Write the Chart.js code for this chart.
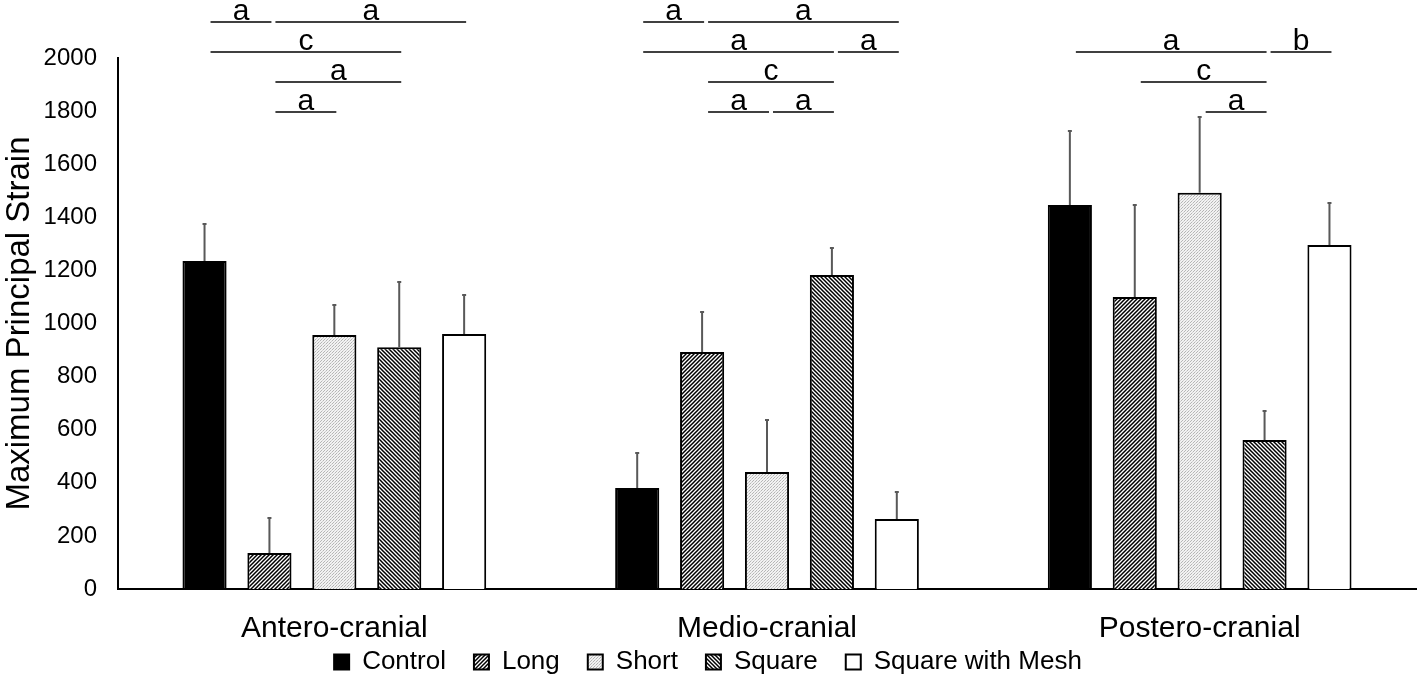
<!DOCTYPE html>
<html>
<head>
<meta charset="utf-8">
<script src="https://cdn.jsdelivr.net/npm/chart.js@4/dist/chart.umd.min.js"></script>
<style>
body { margin: 0; background: #fff; }
#wrap { width: 1418px; height: 679px; }
</style>
</head>
<body>
<div id="wrap"><canvas id="strain_plot_canvas"></canvas></div>
<script>
const regions = ['Antero-cranial', 'Medio-cranial', 'Postero-cranial'];
const groups = ['Control', 'Long', 'Short', 'Square', 'Square with Mesh'];
const yTicks = [0, 200, 400, 600, 800, 1000, 1200, 1400, 1600, 1800, 2000];

// mean strain per region
const controlMean = [1235, 380, 1446];
const longMean = [136, 893, 1100];
const shortMean = [957, 441, 1492];
const squareMean = [911, 1183, 561];
const meshMean = [960, 264, 1296];

// upper error (SD)
const controlSd = [140, 132, 279];
const longSd = [131, 150, 346];
const shortSd = [113, 196, 286];
const squareSd = [245, 101, 109];
const meshSd = [147, 101, 158];

// [region, fromGroup, toGroup, row, letter]
const sigLines = [
    [0, 0, 1, 0, 'a'], [0, 1, 4, 0, 'a'], [0, 0, 3, 1, 'c'], [0, 1, 3, 2, 'a'], [0, 1, 2, 3, 'a'],
    [1, 0, 1, 0, 'a'], [1, 1, 4, 0, 'a'], [1, 0, 3, 1, 'a'], [1, 3, 4, 1, 'a'],
    [1, 1, 3, 2, 'c'], [1, 1, 2, 3, 'a'], [1, 2, 3, 3, 'a'],
    [2, 0, 3, 1, 'a'], [2, 3, 4, 1, 'b'], [2, 1, 3, 2, 'c'], [2, 2, 3, 3, 'a'],
];

const means = [controlMean, longMean, shortMean, squareMean, meshMean];
const sds = [controlSd, longSd, shortSd, squareSd, meshSd];

const FONT = "'Liberation Sans', Arial, sans-serif";

// hatch patterns
function stripes(dir) {
    const p = 4;
    const c = document.createElement('canvas');
    c.width = p; c.height = p;
    const g = c.getContext('2d');
    g.fillStyle = '#fff';
    g.fillRect(0, 0, p, p);
    g.strokeStyle = '#000';
    g.lineWidth = 1.5;
    g.beginPath();
    if (dir > 0) {
        g.moveTo(-1, p + 1); g.lineTo(p + 1, -1);
        g.moveTo(-2, 2); g.lineTo(2, -2);
        g.moveTo(p - 2, p + 2); g.lineTo(p + 2, p - 2);
    } else {
        g.moveTo(-1, -1); g.lineTo(p + 1, p + 1);
        g.moveTo(-2, p - 2); g.lineTo(2, p + 2);
        g.moveTo(p - 2, -2); g.lineTo(p + 2, 2);
    }
    g.stroke();
    return g.createPattern(c, 'repeat');
}

function dots() {
    const c = document.createElement('canvas');
    c.width = 3; c.height = 3;
    const g = c.getContext('2d');
    g.fillStyle = '#f2f2f2';
    g.fillRect(0, 0, 3, 3);
    g.fillStyle = '#b5b5b5';
    g.fillRect(0, 0, 1, 1);
    g.fillRect(2, 1, 1, 1);
    g.fillStyle = '#d0d0d0';
    g.fillRect(1, 2, 1, 1);
    return g.createPattern(c, 'repeat');
}

const fills = ['#000', stripes(1), dots(), stripes(-1), '#fff'];

const errorBars = {
    id: 'errorBars',
    afterDatasetsDraw(chart) {
        const ctx = chart.ctx;
        const y = chart.scales.y;
        ctx.save();
        ctx.strokeStyle = '#595959';
        ctx.lineWidth = 2;
        sds.forEach((sd, i) => {
            chart.getDatasetMeta(i).data.forEach((bar, j) => {
                const top = y.getPixelForValue(means[i][j] + sd[j]);
                ctx.beginPath();
                ctx.moveTo(bar.x, bar.y);
                ctx.lineTo(bar.x, top);
                ctx.moveTo(bar.x - 2, top);
                ctx.lineTo(bar.x + 2, top);
                ctx.stroke();
            });
        });
        ctx.restore();
    }
};

const sigMarks = {
    id: 'sigMarks',
    afterDraw(chart) {
        const ctx = chart.ctx;
        const top = chart.chartArea.top;
        ctx.save();
        ctx.strokeStyle = '#000';
        ctx.fillStyle = '#000';
        ctx.lineWidth = 1.5;
        ctx.font = '30px ' + FONT;
        ctx.textAlign = 'center';
        ctx.textBaseline = 'alphabetic';
        sigLines.forEach(([r, a, b, row, letter]) => {
            const x1 = chart.getDatasetMeta(a).data[r].x + 6;
            const x2 = chart.getDatasetMeta(b).data[r].x + 2;
            const yy = top - 36 + row * 30;
            ctx.beginPath();
            ctx.moveTo(x1, yy);
            ctx.lineTo(x2, yy);
            ctx.stroke();
            ctx.fillText(letter, (x1 + x2) / 2, yy - 2);
        });
        ctx.restore();
    }
};

// let the category labels overflow into the legend band, and drop the legend a bit
const bottomNudge = {
    id: 'bottomNudge',
    afterLayout(chart) {
        chart.scales.x.bottom += 40;
        chart.legend.top += 6;
        chart.legend.bottom += 6;
    }
};

const strainPlot = document.getElementById('strain_plot_canvas');
const strainChart = new Chart(strainPlot, {
    type: 'bar',
    data: {
        labels: regions,
        datasets: groups.map((name, i) => ({
            label: name,
            data: means[i],
            backgroundColor: fills[i],
            borderColor: '#000',
            borderWidth: 2,
            categoryPercentage: 0.75,
            barPercentage: 0.68,
        }))
    },
    options: {
        responsive: true,
        maintainAspectRatio: false,
        animation: false,
        layout: {
            padding: { top: 58, right: 2, left: 0, bottom: 0 }
        },
        scales: {
            y: {
                min: 0,
                max: 2000,
                afterBuildTicks: function(scale) {
                    scale.ticks = yTicks.map(v => ({ value: v }));
                },
                afterFit: function(scale) {
                    scale.width = 118;
                },
                grid: { display: false },
                border: { display: true, color: '#000', width: 2 },
                ticks: {
                    color: '#000',
                    padding: 13,
                    font: { family: FONT, size: 24 },
                    callback: function(value) {
                        return String(value);
                    }
                },
                title: {
                    display: true,
                    text: 'Maximum Principal Strain',
                    color: '#000',
                    font: { family: FONT, size: 33 },
                    padding: { top: 0, bottom: 3 }
                }
            },
            x: {
                afterFit: function(scale) {
                    scale.height = 26;
                },
                grid: { display: false },
                border: { display: true, color: '#000', width: 2 },
                ticks: {
                    color: '#000',
                    padding: 14,
                    font: { family: FONT, size: 30 }
                }
            }
        },
        plugins: {
            legend: {
                position: 'bottom',
                labels: {
                    color: '#000',
                    boxWidth: 15,
                    boxHeight: 15,
                    padding: 28,
                    font: { family: FONT, size: 26 }
                }
            },
            tooltip: { enabled: false }
        }
    },
    plugins: [errorBars, sigMarks, bottomNudge]
});
</script>
</body>
</html>
